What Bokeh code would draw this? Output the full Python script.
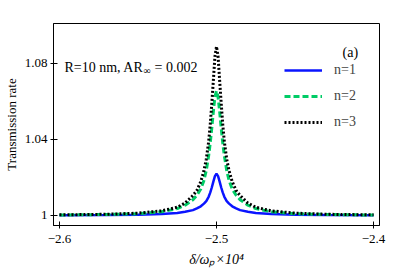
from bokeh.plotting import figure
from bokeh.models import Range1d, FixedTicker, Label, Legend, LegendItem
from bokeh.embed import file_html
from bokeh.resources import INLINE

# detuning delta / omega_p (x 10^4)
delta = [-2.6, -2.57, -2.55, -2.535, -2.525, -2.52, -2.515, -2.5125, -2.51, -2.508,
         -2.5065, -2.505, -2.504, -2.503, -2.502, -2.501, -2.5, -2.499, -2.498, -2.497,
         -2.496, -2.495, -2.4935, -2.492, -2.49, -2.4875, -2.485, -2.48, -2.475, -2.465,
         -2.45, -2.43, -2.4]
n1 = [1.0001, 1.0002, 1.0004, 1.0007, 1.0013, 1.0019, 1.0028, 1.0037, 1.0048, 1.0062,
      1.0075, 1.0098, 1.0120, 1.0147, 1.0178, 1.0207, 1.0219, 1.0207, 1.0178, 1.0147,
      1.0120, 1.0098, 1.0075, 1.0062, 1.0048, 1.0037, 1.0028, 1.0019, 1.0013, 1.0007,
      1.0004, 1.0002, 1.0001]
n2 = [1.0002, 1.0005, 1.0009, 1.0019, 1.0036, 1.0054, 1.0083, 1.0106, 1.0139, 1.0184,
      1.0237, 1.0314, 1.0380, 1.0460, 1.0547, 1.0624, 1.0655, 1.0624, 1.0547, 1.0460,
      1.0380, 1.0314, 1.0237, 1.0184, 1.0139, 1.0106, 1.0083, 1.0054, 1.0036, 1.0019,
      1.0009, 1.0005, 1.0002]
n3 = [1.0003, 1.0006, 1.0012, 1.0024, 1.0043, 1.0065, 1.0105, 1.0131, 1.0178, 1.0235,
      1.0296, 1.0388, 1.0477, 1.0589, 1.0711, 1.0837, 1.0889, 1.0837, 1.0711, 1.0589,
      1.0477, 1.0388, 1.0296, 1.0235, 1.0178, 1.0131, 1.0105, 1.0065, 1.0043, 1.0024,
      1.0012, 1.0006, 1.0003]
series_names = ["n=1", "n=2", "n=3"]
x_ticks = [-2.6, -2.5, -2.4]
x_tick_labels = ["\u22122.6", "\u22122.5", "\u22122.4"]
y_ticks = [1.0, 1.04, 1.08]
y_tick_labels = ["1", "1.04", "1.08"]

FONT = "Liberation Serif"

p = figure(width=403, height=271, output_backend="svg", toolbar_location=None,
           x_range=Range1d(-2.6038, -2.3962), y_range=Range1d(0.9947, 1.101),
           min_border_left=52, min_border_right=24, min_border_top=23,
           min_border_bottom=46)
p.grid.visible = False
p.outline_line_color = "black"
p.outline_line_width = 1
p.outline_line_alpha = 1
p.background_fill_color = "white"
p.border_fill_color = "white"

p.xaxis.ticker = FixedTicker(ticks=x_ticks)
p.yaxis.ticker = FixedTicker(ticks=y_ticks)
p.xaxis.major_label_overrides = dict(zip(x_ticks, x_tick_labels))
p.yaxis.major_label_overrides = dict(zip(y_ticks, y_tick_labels))
for ax in (p.xaxis, p.yaxis):
    ax.major_tick_in = 4
    ax.major_tick_out = 3
    ax.minor_tick_line_color = None
    ax.axis_line_color = "black"
    ax.major_tick_line_color = "black"
    ax.major_label_text_font = FONT
    ax.major_label_text_font_size = "13px"
    ax.major_label_text_color = "black"
    ax.major_label_standoff = 3
    ax.axis_label_text_font = FONT
    ax.axis_label_text_color = "black"
p.xaxis.major_label_standoff = 6
p.yaxis.axis_label = "Transmission rate"
p.yaxis.axis_label_text_font_size = "13px"
p.yaxis.axis_label_text_font_style = "normal"
p.yaxis.axis_label_standoff = 3
p.xaxis.axis_label = "\u03b4/\u03c9\u209a\u00d710\u2074"
p.xaxis.axis_label_text_font_size = "14px"
p.xaxis.axis_label_text_font_style = "italic"
p.xaxis.axis_label_standoff = 6

r1 = p.line(delta, n1, line_color="#0a14ff", line_width=2.5)
r2 = p.line(delta, n2, line_color="#00cc66", line_width=3, line_dash="6 3")
r3 = p.line(delta, n3, line_color="black", line_width=3, line_dash="2 2")

legend = Legend(items=[LegendItem(label=series_names[0], renderers=[r1]),
                       LegendItem(label=series_names[1], renderers=[r2]),
                       LegendItem(label=series_names[2], renderers=[r3])],
                location=(231, 93), border_line_color=None, background_fill_alpha=0,
                padding=0, margin=0, spacing=6, glyph_height=20, glyph_width=38,
                label_standoff=12, label_text_font=FONT, label_text_font_size="14px",
                label_height=20)
p.add_layout(legend)

def lab(text, x, y, size, style="normal"):
    p.add_layout(Label(x=x, y=y, x_units="screen", y_units="screen", text=text,
                       text_font=FONT, text_font_size=size, text_font_style=style,
                       text_color="black", text_baseline="alphabetic"))

lab("(a)", 289, 173, "14px")
lab("R=10 nm, AR", 11, 158, "14px")
lab("\u221e", 90, 155, "10px")
lab("= 0.002", 101, 158, "14px")

open("out.html", "w").write(file_html(p, INLINE))
